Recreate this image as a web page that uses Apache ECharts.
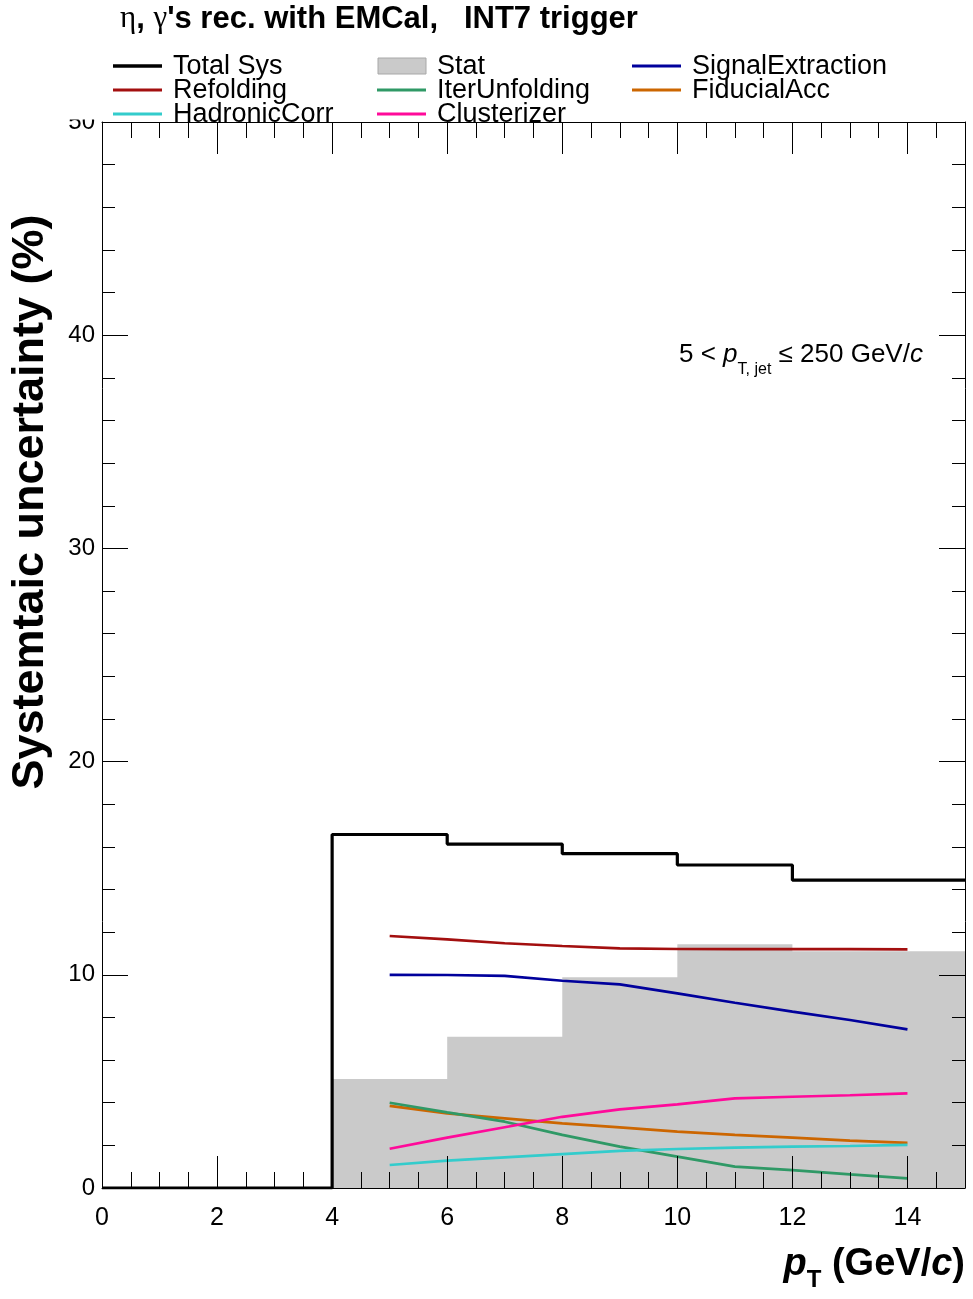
<!DOCTYPE html>
<html><head><meta charset="utf-8">
<script src="https://cdn.jsdelivr.net/npm/echarts@6/dist/echarts.min.js"></script>
<style>html,body{margin:0;padding:0;background:#fff}#c{width:973px;height:1299px}</style>
</head><body><div id="c"></div>
<script>
// ---------------- data ----------------
const binEdges = [0, 4, 6, 8, 10, 12, 15];
const totalSys = [0, 16.58, 16.13, 15.68, 15.15, 14.44];
const statUnc  = [0, 5.11, 7.10, 9.88, 11.43, 11.11];
const ptPoints = [5, 6, 7, 8, 9, 10, 11, 12, 13, 14];
const refolding        = [11.82, 11.66, 11.48, 11.35, 11.24, 11.21, 11.20, 11.20, 11.20, 11.19];
const signalExtraction = [10.00, 9.99, 9.95, 9.72, 9.55, 9.13, 8.69, 8.27, 7.88, 7.44];
const iterUnfolding    = [4.00, 3.55, 3.11, 2.49, 1.94, 1.47, 1.00, 0.84, 0.64, 0.45];
const fiducialAcc      = [3.85, 3.50, 3.27, 3.03, 2.84, 2.64, 2.49, 2.36, 2.22, 2.12];
const hadronicCorr     = [1.08, 1.28, 1.44, 1.59, 1.74, 1.83, 1.89, 1.94, 1.97, 2.02];
const clusterizer      = [1.84, 2.36, 2.85, 3.34, 3.69, 3.92, 4.20, 4.28, 4.35, 4.44];
const seriesNames = ['Total Sys', 'Stat', 'SignalExtraction', 'Refolding', 'IterUnfolding',
                     'FiducialAcc', 'HadronicCorr', 'Clusterizer'];
const titleText = ["η", ", ", "γ", "'s rec. with EMCal,   INT7 trigger"];
const yTitle = 'Systemtaic uncertainty (%)';

// ---------------- styles ----------------
const colors = {
  'Total Sys': '#000000', 'Stat': '#cacaca', 'SignalExtraction': '#00009c',
  'Refolding': '#a30f0f', 'IterUnfolding': '#2f9966', 'FiducialAcc': '#cc6600',
  'HadronicCorr': '#33cccc', 'Clusterizer': '#ff0a9a'
};

function stepPoints(edges, vals) {
  const pts = vals.map((v, i) => [edges[i], v]);
  pts.push([edges[edges.length - 1], vals[vals.length - 1]]);
  return pts;
}
function pairs(xs, ys) { return xs.map((x, i) => [x, ys[i]]); }

const mctx = document.createElement('canvas').getContext('2d');
function runs(x, yc, parts, align) {
  const widths = parts.map(p => { mctx.font = p.font; return mctx.measureText(p.t).width; });
  const total = widths.reduce((a, b) => a + b, 0);
  let cx = align === 'right' ? x - total : x;
  return parts.map((p, i) => {
    const el = { type: 'text', x: cx, y: yc + (p.dy || 0), z: 200,
      style: { text: p.t, font: p.font, fill: '#000', textAlign: 'left', verticalAlign: 'middle' } };
    cx += widths[i];
    return el;
  });
}

const SANS = '"Liberation Sans", Arial, Helvetica, sans-serif';
const SERIF = '"Liberation Serif", "Times New Roman", serif';

const graphics = [];
// white legend box (covers top of "50" label as in reference)
graphics.push({ type: 'rect', z: 150, shape: { x: 40, y: 40, width: 925, height: 79.5 },
  style: { fill: '#fff' } });
// title
graphics.push(...runs(120, 19, [
  { t: titleText[0], font: '31px ' + SERIF },
  { t: titleText[1], font: 'bold 31px ' + SANS },
  { t: titleText[2], font: '31px ' + SERIF },
  { t: titleText[3], font: 'bold 31px ' + SANS }
]));
// legend
const legendCols = [113, 377, 632];
const legendRows = [66, 90, 114];
const legendOrder = [['Total Sys', 'Refolding', 'HadronicCorr'],
                     ['Stat', 'IterUnfolding', 'Clusterizer'],
                     ['SignalExtraction', 'FiducialAcc']];
legendOrder.forEach((col, ci) => {
  col.forEach((name, ri) => {
    const x0 = legendCols[ci], y0 = legendRows[ri];
    if (name === 'Stat') {
      graphics.push({ type: 'rect', z: 200, shape: { x: x0 + 1, y: y0 - 8, width: 48, height: 16 },
        style: { fill: colors[name], stroke: '#a8a8a8', lineWidth: 1 } });
    } else {
      graphics.push({ type: 'line', z: 200, shape: { x1: x0, y1: y0, x2: x0 + 49, y2: y0 },
        style: { stroke: colors[name], lineWidth: name === 'Total Sys' ? 3.5 : 3 } });
    }
    graphics.push({ type: 'text', z: 200, x: x0 + 60, y: y0 + 0.5,
      style: { text: name, font: '27px ' + SANS, fill: '#000', verticalAlign: 'middle' } });
  });
});
// annotation
graphics.push(...runs(679, 355, [
  { t: '5 < ', font: '26px ' + SANS },
  { t: 'p', font: 'italic 26px ' + SANS },
  { t: 'T, jet', font: '16px ' + SANS, dy: 15 },
  { t: ' ≤ 250 GeV/', font: '26px ' + SANS },
  { t: 'c', font: 'italic 26px ' + SANS }
]));
// x title
graphics.push(...runs(965, 1265, [
  { t: 'p', font: 'bold italic 38px ' + SANS },
  { t: 'T', font: 'bold 24px ' + SANS, dy: 15 },
  { t: ' (GeV/', font: 'bold 38px ' + SANS },
  { t: 'c', font: 'bold italic 38px ' + SANS },
  { t: ')', font: 'bold 38px ' + SANS }
], 'right'));
// y title
graphics.push({ type: 'text', z: 200, x: 31, y: 502, rotation: Math.PI / 2,
  style: { text: yTitle, font: 'bold 45px ' + SANS, fill: '#000', textAlign: 'center', verticalAlign: 'middle' } });

const axisCommon = {
  type: 'value', z: 10,
  axisLine: { show: true, onZero: false, lineStyle: { color: '#000', width: 1 } },
  splitLine: { show: false }
};

const lineSeries = (name, ys) => ({
  name, type: 'line', data: pairs(ptPoints, ys), showSymbol: false, symbol: 'none',
  lineStyle: { color: colors[name], width: 2.7 }, itemStyle: { color: colors[name] },
  z: 5, animation: false
});

const option = {
  animation: false,
  backgroundColor: '#fff',
  grid: { left: 102, right: 8, top: 122, bottom: 111, containLabel: false },
  xAxis: [
    Object.assign({}, axisCommon, { position: 'bottom', min: 0, max: 15, interval: 2,
      axisTick: { show: true, inside: true, length: 32, lineStyle: { color: '#000' } },
      minorTick: { show: true, splitNumber: 4, length: 16, lineStyle: { color: '#000' } },
      axisLabel: { show: true, fontSize: 25, color: '#000', fontFamily: SANS, margin: 18, showMaxLabel: false } }),
    Object.assign({}, axisCommon, { position: 'top', min: 0, max: 15, interval: 2,
      axisTick: { show: true, inside: true, length: 32, lineStyle: { color: '#000' } },
      minorTick: { show: true, splitNumber: 4, length: 16, lineStyle: { color: '#000' } },
      axisLabel: { show: false } })
  ],
  yAxis: [
    Object.assign({}, axisCommon, { position: 'left', min: 0, max: 50, interval: 10,
      axisTick: { show: true, inside: true, length: 26, lineStyle: { color: '#000' } },
      minorTick: { show: true, splitNumber: 5, length: 13, lineStyle: { color: '#000' } },
      axisLabel: { show: true, fontSize: 24, color: '#000', fontFamily: SANS, margin: 7 } }),
    Object.assign({}, axisCommon, { position: 'right', min: 0, max: 50, interval: 10,
      axisTick: { show: true, inside: true, length: 26, lineStyle: { color: '#000' } },
      minorTick: { show: true, splitNumber: 5, length: 13, lineStyle: { color: '#000' } },
      axisLabel: { show: false } })
  ],
  series: [
    { name: 'Stat', type: 'line', step: 'end', data: stepPoints(binEdges, statUnc),
      symbol: 'none', lineStyle: { width: 0, color: colors['Stat'] },
      areaStyle: { color: colors['Stat'], opacity: 1 }, z: 1 },
    lineSeries('Refolding', refolding),
    lineSeries('SignalExtraction', signalExtraction),
    lineSeries('FiducialAcc', fiducialAcc),
    lineSeries('IterUnfolding', iterUnfolding),
    lineSeries('HadronicCorr', hadronicCorr),
    lineSeries('Clusterizer', clusterizer),
    { name: 'Total Sys', type: 'line', step: 'end', data: stepPoints(binEdges, totalSys),
      symbol: 'none', lineStyle: { width: 3.2, color: colors['Total Sys'] }, z: 6 }
  ],
  graphic: graphics
};

const chart = echarts.init(document.getElementById('c'), null, { renderer: 'canvas' });
chart.setOption(option);
</script>
</body></html>
